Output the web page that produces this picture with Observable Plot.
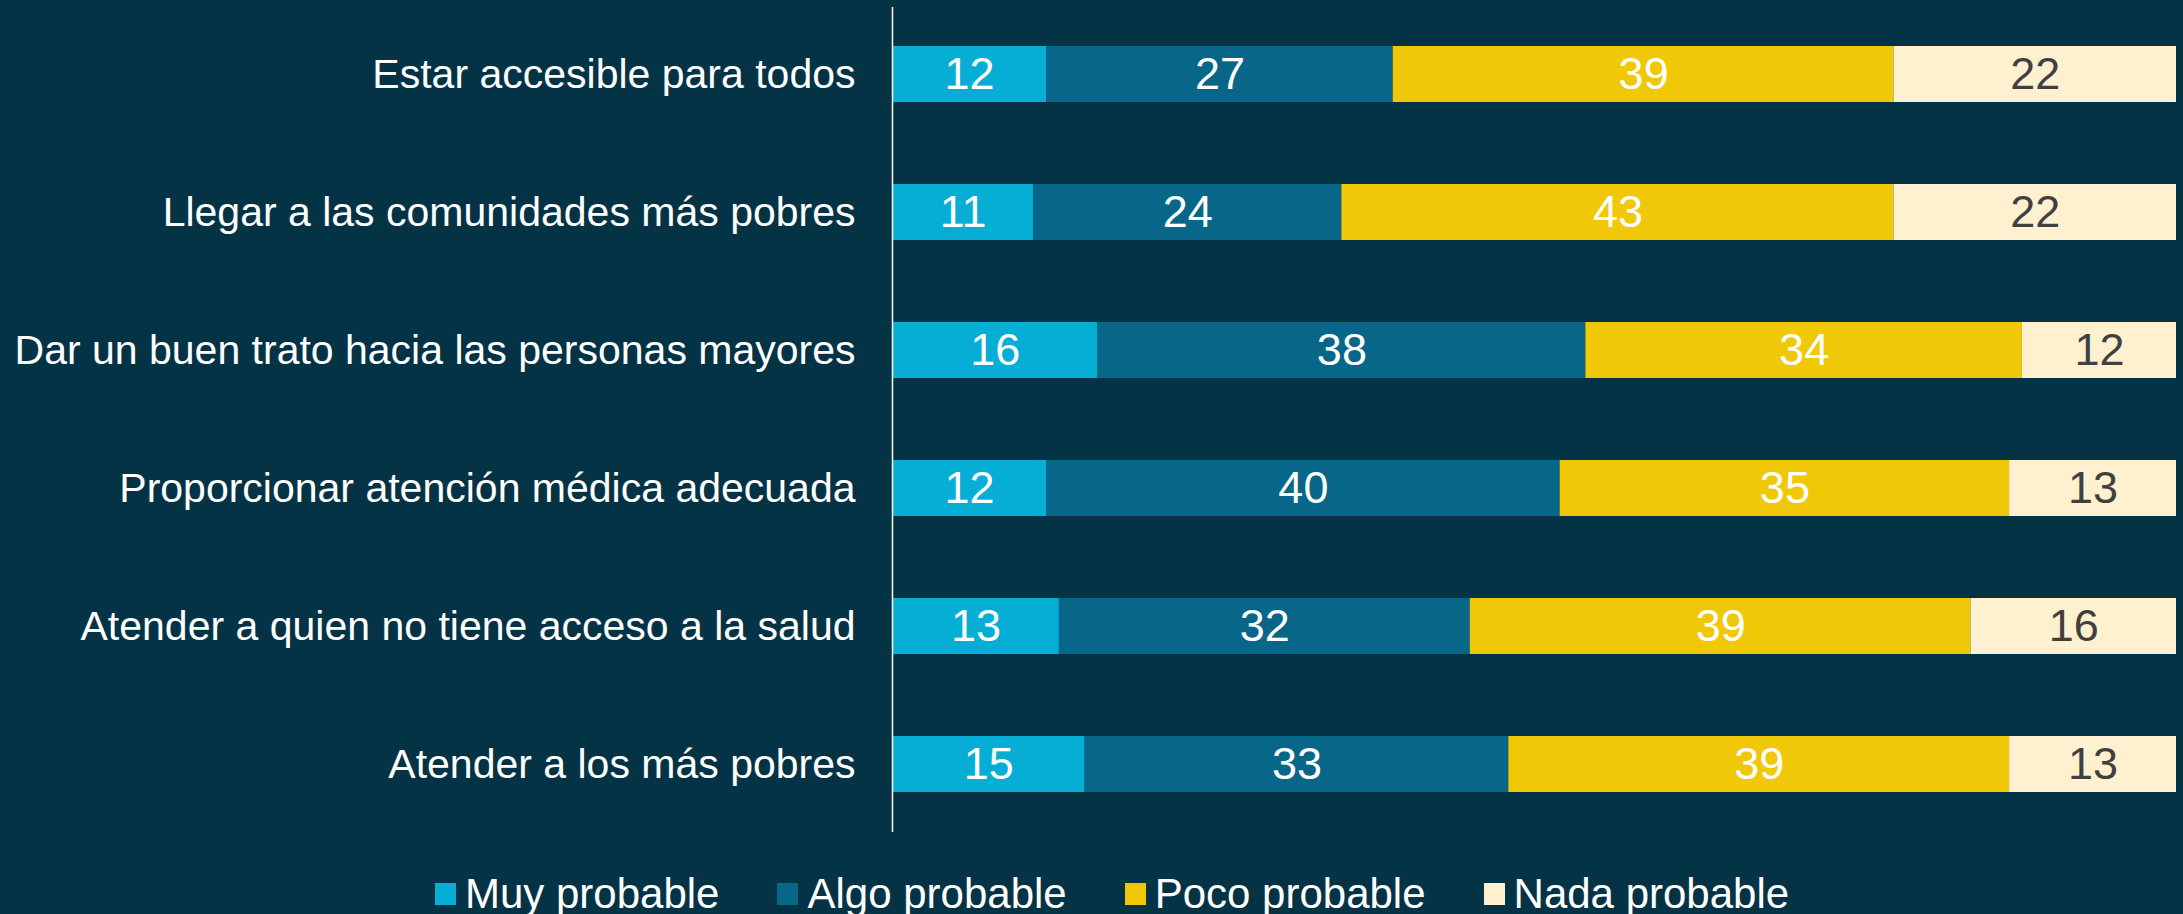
<!DOCTYPE html>
<html>
<head>
<meta charset="utf-8">
<script src="https://cdn.jsdelivr.net/npm/d3@7"></script>
<script src="https://cdn.jsdelivr.net/npm/@observablehq/plot@0.6"></script>
<style>
  html, body { margin: 0; padding: 0; background: #053346; }
  body { position: relative; width: 2183px; height: 914px; overflow: hidden; font-family: "Liberation Sans", Arial, sans-serif; }
  #legend { position: absolute; left: 435px; top: 872px; height: 44px; line-height: 1; display: flex; align-items: center; color: #fff; font-size: 42px; }
  .item { display: flex; align-items: center; margin-right: 58px; }
  .sw { width: 21px; height: 22px; margin-right: 9px; }
</style>
</head>
<body>
<div id="chart"></div>
<div id="legend"></div>
<script>
const categories = [
  "Estar accesible para todos",
  "Llegar a las comunidades más pobres",
  "Dar un buen trato hacia las personas mayores",
  "Proporcionar atención médica adecuada",
  "Atender a quien no tiene acceso a la salud",
  "Atender a los más pobres"
];
const seriesNames = ["Muy probable", "Algo probable", "Poco probable", "Nada probable"];
const muyProbable  = [12, 11, 16, 12, 13, 15];
const algoProbable = [27, 24, 38, 40, 32, 33];
const pocoProbable = [39, 43, 34, 35, 39, 39];
const nadaProbable = [22, 22, 12, 13, 16, 13];
const colors = ["#06aed5", "#086788", "#f0c808", "#fff1d0"];
const textColors = ["#ffffff", "#ffffff", "#ffffff", "#404040"];

const seriesValues = [muyProbable, algoProbable, pocoProbable, nadaProbable];
const data = [];
categories.forEach((c, i) => {
  seriesNames.forEach((s, j) => {
    data.push({q: c, serie: s, value: seriesValues[j][i], tcolor: textColors[j]});
  });
});

const chart = Plot.plot({
  width: 2183,
  height: 840,
  marginLeft: 892,
  marginRight: 7,
  marginTop: 7,
  marginBottom: 8,
  style: {background: "#053346", fontFamily: "Liberation Sans, Arial, sans-serif"},
  x: {domain: [0, 100], axis: null},
  y: {domain: categories, paddingInner: 0.594, paddingOuter: 0.286, label: null},
  color: {domain: seriesNames, range: colors},
  marks: [
    Plot.barX(data, Plot.stackX({x: "value", y: "q", fill: "serie", order: seriesNames})),
    Plot.text(data, Plot.stackX({x: "value", y: "q", z: "serie", order: seriesNames, text: d => String(d.value), fill: "tcolor", fontSize: 45})),
    Plot.ruleX([0], {stroke: "#ffffff", strokeWidth: 1.5}),
    Plot.axisY({tickSize: 0, tickPadding: 37, fontSize: 41, color: "#ffffff", label: null})
  ]
});
document.getElementById("chart").appendChild(chart);

const legend = document.getElementById("legend");
seriesNames.forEach((s, j) => {
  const it = document.createElement("div");
  it.className = "item";
  const sw = document.createElement("div");
  sw.className = "sw";
  sw.style.background = colors[j];
  const t = document.createElement("span");
  t.textContent = s;
  it.appendChild(sw); it.appendChild(t);
  legend.appendChild(it);
});
</script>
</body>
</html>
